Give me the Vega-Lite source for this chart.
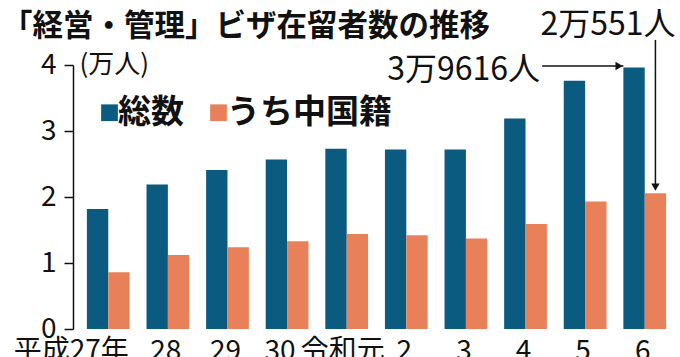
{
  "$schema": "https://vega.github.io/schema/vega-lite/v6.json",
  "width": 607,
  "height": 264,
  "autosize": "none",
  "padding": {"left": 73, "top": 65, "right": 0, "bottom": 28},
  "background": "white",
  "config": {"font": "Noto Sans CJK JP", "view": {"stroke": null}},
  "title": {"text": "「経営・管理」ビザ在留者数の推移", "anchor": "start", "frame": "group", "dx": -71, "offset": -33, "fontSize": 30.5, "fontWeight": "bold", "color": "#111111"},
  "datasets": {
    "bars": [
      {"year": "平成27年", "series": "総数", "value": 1.82},
      {"year": "平成27年", "series": "うち中国籍", "value": 0.86},
      {"year": "28", "series": "総数", "value": 2.19},
      {"year": "28", "series": "うち中国籍", "value": 1.12},
      {"year": "29", "series": "総数", "value": 2.41},
      {"year": "29", "series": "うち中国籍", "value": 1.24},
      {"year": "30", "series": "総数", "value": 2.57},
      {"year": "30", "series": "うち中国籍", "value": 1.33},
      {"year": "令和元", "series": "総数", "value": 2.73},
      {"year": "令和元", "series": "うち中国籍", "value": 1.44},
      {"year": "2", "series": "総数", "value": 2.72},
      {"year": "2", "series": "うち中国籍", "value": 1.42},
      {"year": "3", "series": "総数", "value": 2.72},
      {"year": "3", "series": "うち中国籍", "value": 1.37},
      {"year": "4", "series": "総数", "value": 3.19},
      {"year": "4", "series": "うち中国籍", "value": 1.59},
      {"year": "5", "series": "総数", "value": 3.76},
      {"year": "5", "series": "うち中国籍", "value": 1.93},
      {"year": "6", "series": "総数", "value": 3.9616},
      {"year": "6", "series": "うち中国籍", "value": 2.0551}
    ],
    "vArrow": [{"year": "6", "series": "うち中国籍", "top": 4.38, "tip": 2.15, "label": "2万551人", "labelY": 4.6}],
    "hArrow": [{"from": "4", "to": "6", "y": 3.985, "label": "3万9616人", "labelY": 3.93}]
  },
  "layer": [
    {
      "data": {"name": "bars"},
      "mark": {"type": "bar"},
      "encoding": {
        "x": {
          "field": "year", "type": "nominal",
          "scale": {"domain": ["平成27年", "28", "29", "30", "令和元", "2", "3", "4", "5", "6"], "paddingInner": 0.283, "paddingOuter": 0.233},
          "axis": {
            "title": null, "domain": false, "ticks": false, "labelAngle": 0,
            "labelFontSize": 28, "labelColor": "#111111", "labelPadding": 8,
            "labelOffset": {"condition": [
              {"test": "datum.value == '平成27年'", "value": -37},
              {"test": "datum.value == '30'", "value": -7},
              {"test": "datum.value == '令和元'", "value": -4}
            ], "value": -2}
          }
        },
        "xOffset": {"field": "series", "type": "nominal", "scale": {"domain": ["総数", "うち中国籍"], "paddingInner": 0, "paddingOuter": 0}},
        "y": {
          "field": "value", "type": "quantitative",
          "scale": {"domain": [0, 4], "nice": false},
          "axis": {
            "values": [0, 0.5, 1, 1.5, 2, 2.5, 3, 3.5, 4],
            "labelExpr": "datum.value % 1 == 0 ? format(datum.value, 'd') : ''",
            "grid": false, "tickSize": 9, "tickColor": "#111111", "tickWidth": 1.5,
            "domainColor": "#111111", "domainWidth": 1.5,
            "labelFontSize": 28, "labelColor": "#111111", "labelPadding": 8,
            "title": "(万人)", "titleAngle": 0, "titleAlign": "left", "titleBaseline": "top",
            "titleX": 6, "titleY": -14, "titleFontSize": 26, "titleFontWeight": "normal", "titleColor": "#111111"
          }
        },
        "color": {
          "field": "series", "type": "nominal",
          "scale": {"domain": ["総数", "うち中国籍"], "range": ["#0b5a80", "#e8805a"]},
          "legend": {
            "title": null, "orient": "none", "legendX": 20, "legendY": 31, "direction": "horizontal",
            "symbolType": "square", "symbolSize": 280, "symbolStrokeWidth": 0,
            "labelFontSize": 33, "labelFontWeight": "bold", "labelColor": "#111111", "labelLimit": 400,
            "labelOffset": -8, "columnPadding": 18, "padding": 0
          }
        }
      }
    },
    {
      "data": {"name": "vArrow"},
      "mark": {"type": "rule", "color": "#111111", "strokeWidth": 1.5},
      "encoding": {
        "x": {"field": "year", "type": "nominal"},
        "xOffset": {"field": "series", "type": "nominal"},
        "y": {"field": "top", "type": "quantitative"},
        "y2": {"field": "tip"}
      }
    },
    {
      "data": {"name": "vArrow"},
      "mark": {"type": "point", "shape": "triangle-down", "filled": true, "color": "#111111", "size": 70, "opacity": 1},
      "encoding": {
        "x": {"field": "year", "type": "nominal"},
        "xOffset": {"field": "series", "type": "nominal"},
        "y": {"field": "tip", "type": "quantitative"}
      }
    },
    {
      "data": {"name": "vArrow"},
      "mark": {"type": "text", "align": "right", "baseline": "middle", "fontSize": 32, "color": "#111111", "dx": 20},
      "encoding": {
        "x": {"field": "year", "type": "nominal"},
        "xOffset": {"field": "series", "type": "nominal"},
        "y": {"field": "labelY", "type": "quantitative"},
        "text": {"field": "label"}
      }
    },
    {
      "data": {"name": "hArrow"},
      "mark": {"type": "rule", "color": "#111111", "strokeWidth": 1.5},
      "encoding": {
        "x": {"field": "from", "type": "nominal", "bandPosition": 0.89},
        "x2": {"field": "to", "bandPosition": 0},
        "y": {"field": "y", "type": "quantitative"}
      }
    },
    {
      "data": {"name": "hArrow"},
      "mark": {"type": "point", "shape": "triangle-right", "filled": true, "color": "#111111", "size": 70, "opacity": 1},
      "encoding": {
        "x": {"field": "to", "type": "nominal", "bandPosition": -0.1},
        "y": {"field": "y", "type": "quantitative"}
      }
    },
    {
      "data": {"name": "hArrow"},
      "mark": {"type": "text", "align": "right", "baseline": "middle", "fontSize": 32, "color": "#111111"},
      "encoding": {
        "x": {"field": "from", "type": "nominal", "bandPosition": 0.84},
        "y": {"field": "labelY", "type": "quantitative"},
        "text": {"field": "label"}
      }
    }
  ]
}
